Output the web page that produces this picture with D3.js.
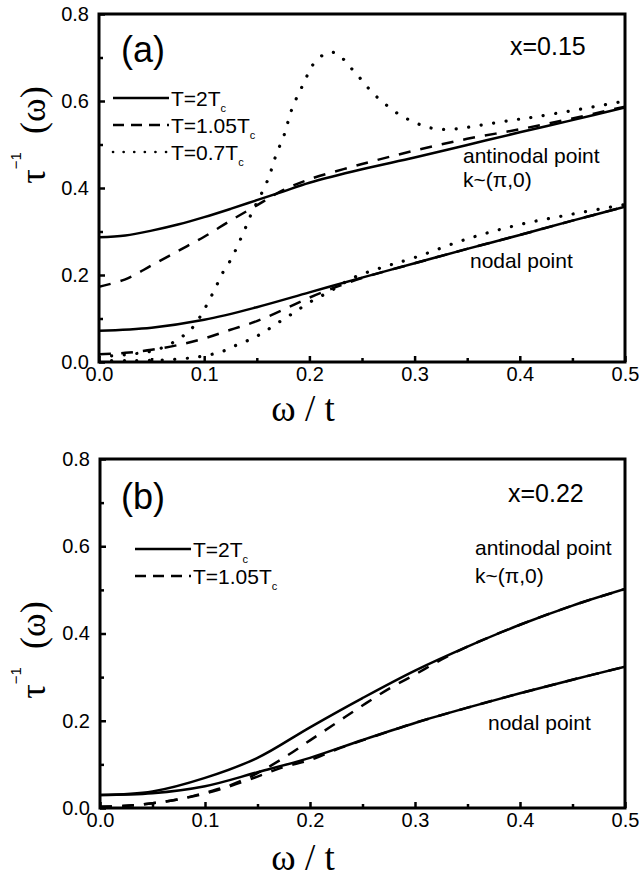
<!DOCTYPE html>
<meta charset="utf-8">
<head>
  <title>Scattering rate vs frequency</title>
</head>
<style>
body { margin: 0; background: #fff; }
svg { display: block; }
.tick text { font-family: Arial, "Liberation Sans", sans-serif; font-size: 20px; fill: #000; }
.lbl { font-family: Arial, "Liberation Sans", sans-serif; font-size: 21px; fill: #000; }
.serif { font-family: "Times New Roman", "Liberation Serif", serif; fill: #000; }
</style>
<body>
<svg id="chart" width="639" height="877"></svg>

<script src="https://cdnjs.cloudflare.com/ajax/libs/d3/7.8.5/d3.min.js"></script>
<script>
// axis ticks
var xMajor = [0, 0.1, 0.2, 0.3, 0.4, 0.5];
var xMinor = [0.05, 0.15, 0.25, 0.35, 0.45];
var yMajor = [0, 0.2, 0.4, 0.6, 0.8];
var yMinor = [0.1, 0.3, 0.5, 0.7];

// panel (a), x = 0.15 : [omega/t, 1/tau]
var aAnti2Tc = [[0,0.287],[0.025,0.291],[0.05,0.302],[0.075,0.316],[0.1,0.333],[0.125,0.352],[0.15,0.372],[0.175,0.392],[0.2,0.412],[0.25,0.443],[0.3,0.47],[0.35,0.499],[0.4,0.528],[0.45,0.556],[0.5,0.585]];
var aAnti105Tc = [[0,0.173],[0.025,0.19],[0.05,0.222],[0.075,0.255],[0.1,0.288],[0.125,0.325],[0.15,0.36],[0.175,0.395],[0.2,0.42],[0.25,0.455],[0.3,0.486],[0.35,0.513],[0.4,0.535],[0.45,0.56],[0.5,0.587]];
var aAnti07Tc = [[0,0.012],[0.03,0.018],[0.05,0.025],[0.065,0.038],[0.08,0.06],[0.09,0.082],[0.098,0.112],[0.105,0.143],[0.112,0.177],[0.118,0.207],[0.126,0.238],[0.132,0.269],[0.139,0.307],[0.145,0.342],[0.155,0.39],[0.162,0.428],[0.166,0.46],[0.171,0.492],[0.176,0.522],[0.18,0.555],[0.184,0.586],[0.19,0.618],[0.196,0.648],[0.202,0.679],[0.213,0.706],[0.22,0.712],[0.227,0.708],[0.238,0.68],[0.249,0.65],[0.26,0.619],[0.273,0.591],[0.286,0.568],[0.299,0.552],[0.312,0.54],[0.325,0.535],[0.34,0.536],[0.364,0.545],[0.39,0.555],[0.413,0.563],[0.45,0.578],[0.5,0.6]];
var aNode2Tc = [[0,0.072],[0.05,0.079],[0.1,0.097],[0.15,0.126],[0.2,0.16],[0.25,0.194],[0.3,0.227],[0.35,0.26],[0.4,0.292],[0.45,0.325],[0.5,0.357]];
var aNode105Tc = [[0,0.018],[0.025,0.021],[0.05,0.028],[0.075,0.039],[0.1,0.054],[0.125,0.074],[0.15,0.094],[0.175,0.12],[0.2,0.148],[0.225,0.172],[0.25,0.193],[0.3,0.227],[0.35,0.26],[0.4,0.292],[0.45,0.325],[0.5,0.357]];
var aNode07Tc = [[0,0.004],[0.03,0.003],[0.064,0.005],[0.089,0.01],[0.104,0.016],[0.117,0.024],[0.129,0.037],[0.142,0.05],[0.155,0.066],[0.17,0.09],[0.185,0.113],[0.2,0.137],[0.22,0.163],[0.242,0.194],[0.27,0.218],[0.3,0.24],[0.35,0.283],[0.4,0.316],[0.45,0.34],[0.5,0.362]];

// panel (b), x = 0.22
var bAnti2Tc = [[0,0.03],[0.05,0.038],[0.1,0.069],[0.15,0.115],[0.2,0.185],[0.25,0.252],[0.3,0.315],[0.35,0.37],[0.4,0.42],[0.45,0.464],[0.5,0.502]];
var bAnti105Tc = [[0,0.003],[0.025,0.005],[0.05,0.011],[0.075,0.02],[0.1,0.035],[0.125,0.053],[0.15,0.08],[0.175,0.115],[0.2,0.155],[0.225,0.195],[0.25,0.235],[0.275,0.273],[0.3,0.306],[0.325,0.34],[0.35,0.37],[0.4,0.42],[0.45,0.464],[0.5,0.502]];
var bNode2Tc = [[0,0.03],[0.05,0.034],[0.1,0.05],[0.15,0.082],[0.2,0.115],[0.25,0.156],[0.3,0.195],[0.35,0.23],[0.4,0.263],[0.45,0.294],[0.5,0.324]];
var bNode105Tc = [[0,0.003],[0.025,0.005],[0.05,0.011],[0.075,0.02],[0.1,0.033],[0.125,0.051],[0.15,0.072],[0.175,0.094],[0.2,0.11],[0.225,0.134],[0.25,0.155],[0.3,0.195],[0.35,0.23],[0.4,0.263],[0.45,0.294],[0.5,0.324]];

var dashStyle = { solid: null, dash: "12,10", dot: "0.1,12.5" };

var panels = [
  { id: "a", tag: "(a)", dop: "x=0.15", left: 99, right: 625, top: 14, bottom: 362,
    ylabY: 135, tagY: 62, dopY: 55, dopX: 510, titleY: 421,
    anti: [463, 163], kpt: [463, 187], node: [470, 268],
    legend: { x1: 113, x2: 169, y0: 98, dy: 27,
      items: [["solid", "T=2T"], ["dash", "T=1.05T"], ["dot", "T=0.7T"]] },
    series: [[aAnti2Tc, "solid"], [aAnti105Tc, "dash"], [aAnti07Tc, "dot"],
             [aNode2Tc, "solid"], [aNode105Tc, "dash"], [aNode07Tc, "dot"]] },
  { id: "b", tag: "(b)", dop: "x=0.22", left: 100, right: 625, top: 459, bottom: 808,
    ylabY: 650, tagY: 509, dopY: 502, dopX: 508, titleY: 870,
    anti: [475, 555], kpt: [475, 583], node: [488, 730],
    legend: { x1: 135, x2: 191, y0: 549, dy: 27,
      items: [["solid", "T=2T"], ["dash", "T=1.05T"]] },
    series: [[bAnti2Tc, "solid"], [bAnti105Tc, "dash"], [bNode2Tc, "solid"], [bNode105Tc, "dash"]] }
];

var svg = d3.select("#chart");

panels.forEach(function(p) {
  var x = d3.scaleLinear().domain([0, 0.5]).range([p.left, p.right]);
  var y = d3.scaleLinear().domain([0, 0.8]).range([p.bottom, p.top]);
  var g = svg.append("g");

  g.append("clipPath").attr("id", "clip" + p.id)
    .append("rect").attr("x", p.left).attr("y", p.top)
    .attr("width", p.right - p.left).attr("height", p.bottom - p.top);

  // ticks (inward)
  var xa = g.append("g").attr("transform", "translate(0," + p.bottom + ")")
    .call(d3.axisBottom(x).tickValues(xMajor).tickSize(-6).tickPadding(10).tickFormat(d3.format(".1f")));
  var xm = g.append("g").attr("transform", "translate(0," + p.bottom + ")")
    .call(d3.axisBottom(x).tickValues(xMinor).tickSize(-4).tickFormat(""));
  var ya = g.append("g").attr("transform", "translate(" + p.left + ",0)")
    .call(d3.axisLeft(y).tickValues(yMajor).tickSize(-6).tickPadding(10).tickFormat(d3.format(".1f")));
  var ym = g.append("g").attr("transform", "translate(" + p.left + ",0)")
    .call(d3.axisLeft(y).tickValues(yMinor).tickSize(-4).tickFormat(""));
  [xa, xm, ya, ym].forEach(function(a) {
    a.select(".domain").remove();
    a.selectAll(".tick line").attr("stroke", "#000").attr("stroke-width", 2.5);
  });
  xa.selectAll(".tick text").attr("dy", "0.45em");

  // curves
  var line = d3.line()
    .x(function(d) { return x(d[0]); })
    .y(function(d) { return y(d[1]); })
    .curve(d3.curveCatmullRom.alpha(0.5));
  g.append("g").attr("clip-path", "url(#clip" + p.id + ")")
    .selectAll("path").data(p.series).enter().append("path")
    .attr("d", function(d) { return line(d[0]); })
    .attr("fill", "none")
    .attr("stroke", "#000")
    .attr("stroke-width", function(d) { return d[1] === "dot" ? 3.2 : 2.5; })
    .attr("stroke-linecap", function(d) { return d[1] === "dot" ? "round" : "butt"; })
    .attr("stroke-dasharray", function(d) { return dashStyle[d[1]]; });

  // frame
  g.append("rect").attr("x", p.left).attr("y", p.top)
    .attr("width", p.right - p.left).attr("height", p.bottom - p.top)
    .attr("fill", "none").attr("stroke", "#000").attr("stroke-width", 3);

  // legend
  var L = p.legend;
  L.items.forEach(function(it, i) {
    var yy = L.y0 + i * L.dy;
    g.append("line").attr("x1", L.x1).attr("x2", L.x2).attr("y1", yy).attr("y2", yy)
      .attr("stroke", "#000")
      .attr("stroke-width", it[0] === "dot" ? 2.6 : 2.5)
      .attr("stroke-linecap", it[0] === "dot" ? "round" : "butt")
      .attr("stroke-dasharray", it[0] === "dash" ? "11,7" : (it[0] === "dot" ? "0.1,10.5" : null));
    var t = g.append("text").attr("class", "lbl").attr("x", L.x2 + 2).attr("y", yy + 7.5).text(it[1]);
    t.append("tspan").attr("font-size", "11px").attr("dy", "6").text("c");
  });

  // annotations
  g.append("text").attr("class", "lbl").attr("x", 121).attr("y", p.tagY)
    .style("font-size", "36px").text(p.tag);
  g.append("text").attr("class", "lbl").attr("x", p.dopX).attr("y", p.dopY)
    .style("font-size", "25px").text(p.dop);
  g.append("text").attr("class", "lbl").attr("x", p.anti[0]).attr("y", p.anti[1]).text("antinodal point");
  g.append("text").attr("class", "lbl").attr("x", p.kpt[0]).attr("y", p.kpt[1]).text("k~(\u03c0,0)");
  g.append("text").attr("class", "lbl").attr("x", p.node[0]).attr("y", p.node[1]).text("nodal point");

  // axis titles
  g.append("text").attr("class", "serif").attr("x", 303).attr("y", p.titleY)
    .attr("text-anchor", "middle").style("font-size", "37px")
    .text("\u03c9 / t");
  var yl = g.append("text").attr("class", "serif")
    .attr("transform", "translate(45," + p.ylabY + ") rotate(-90)")
    .attr("text-anchor", "middle").style("font-size", "36px");
  yl.append("tspan").text("\u03c4");
  yl.append("tspan").attr("dy", "-24").style("font-size", "15px")
    .style("font-family", "Arial, 'Liberation Sans', sans-serif").text("\u22121");
  yl.append("tspan").attr("dy", "24").text("\u2002(\u03c9)");
});
</script>
</body>
</html>
